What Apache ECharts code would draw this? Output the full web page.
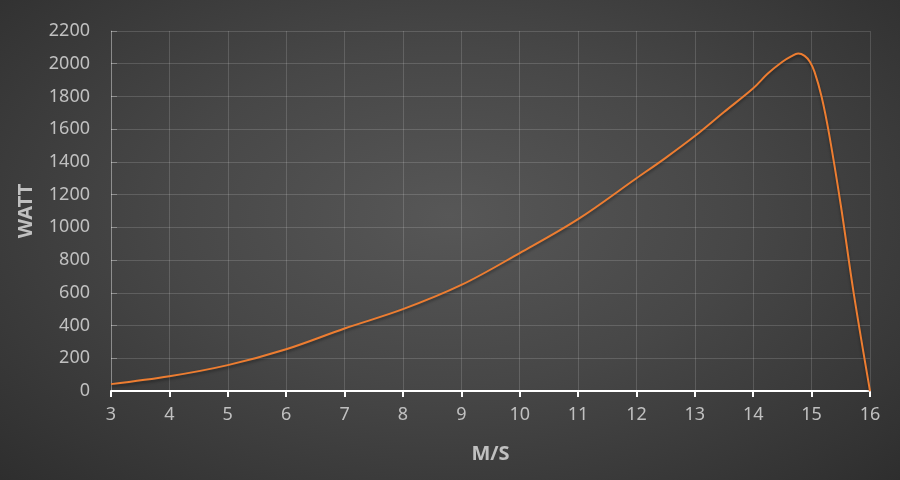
<!DOCTYPE html>
<html><head><meta charset="utf-8">
<script src="https://cdn.jsdelivr.net/npm/echarts@6/dist/echarts.min.js"></script>
<style>html,body{margin:0;padding:0;}#c{width:900px;height:480px;background:radial-gradient(ellipse at 50% 45%, #575757 0%, #474747 45%, #2e2e2e 100%);}</style>
</head><body><div id="c"></div>
<script>
const speeds = [3, 4, 5, 6, 7, 8, 9, 10, 11, 12, 12.5, 13, 13.5, 14, 14.25, 14.5, 14.65, 14.77, 14.88, 14.97, 15.05, 15.17, 15.3, 15.5, 15.72, 16];
const watts  = [42, 90, 158, 255, 382, 500, 648, 843, 1050, 1300, 1425, 1558, 1705, 1850, 1940, 2012, 2045, 2062, 2048, 2012, 1950, 1800, 1570, 1135, 600, 0];
const xName = 'M/S';
const yName = 'WATT';
const chart = echarts.init(document.getElementById('c'), null, {renderer:'canvas'});
const txt = '#c0c0c0';
const ff = 'Noto Sans';
chart.setOption({
  backgroundColor: 'transparent',
  grid: {left: 111, right: 30, top: 31, bottom: 89},
  xAxis: {
    type: 'value', min: 3, max: 16, interval: 1,
    name: xName, nameLocation: 'middle', nameGap: 53,
    nameTextStyle: {color: txt, fontSize: 20, fontWeight: 'bold', fontFamily: ff},
    axisLine: {show: true, onZero: false, lineStyle: {color: '#ffffff', width: 2}},
    axisTick: {show: true, length: 6, lineStyle: {color: '#ffffff', width: 2}},
    axisLabel: {color: txt, fontSize: 18, margin: 15, fontFamily: ff},
    splitLine: {show: true, lineStyle: {color: 'rgba(255,255,255,0.15)', width: 1}}
  },
  yAxis: {
    type: 'value', min: 0, max: 2200, interval: 200,
    name: yName, nameLocation: 'middle', nameGap: 75, nameRotate: 90,
    nameTextStyle: {color: txt, fontSize: 20, fontWeight: 'bold', fontFamily: ff},
    axisLine: {show: true, lineStyle: {color: 'rgba(255,255,255,0.3)', width: 1}},
    axisTick: {show: true, inside: true, length: 6, lineStyle: {color: 'rgba(255,255,255,0.3)'}},
    axisLabel: {color: txt, fontSize: 18, margin: 21, fontFamily: ff, formatter: v => String(v)},
    splitLine: {show: true, lineStyle: {color: 'rgba(255,255,255,0.15)', width: 1}}
  },
  series: [{
    type: 'line', data: speeds.map((s, i) => [s, watts[i]]),
    smooth: 0.35, showSymbol: false, symbol: 'none',
    lineStyle: {color: '#ed7d31', width: 2, shadowColor: 'rgba(0,0,0,0.4)', shadowBlur: 3, shadowOffsetY: 2},
    z: 5
  }],
  animation: false
});
</script></body></html>
